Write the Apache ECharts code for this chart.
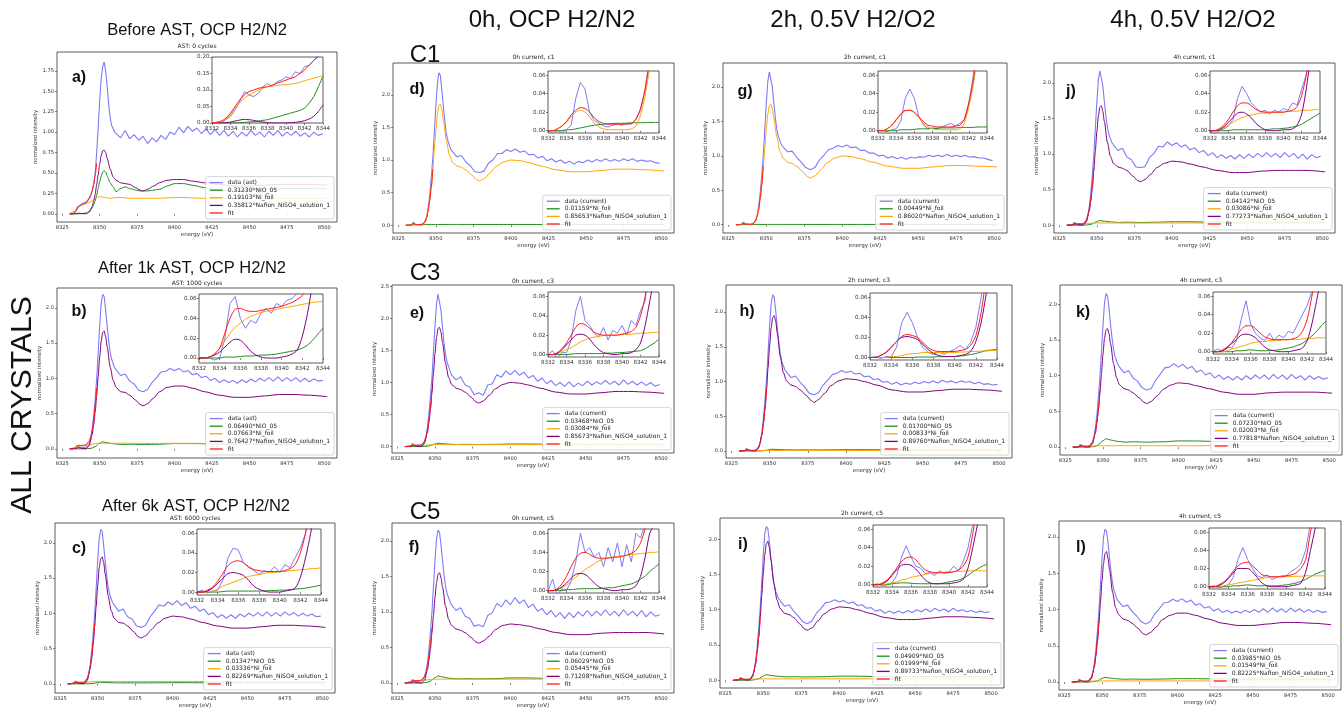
<!DOCTYPE html>
<html><head><meta charset="utf-8">
<script src="https://cdn.jsdelivr.net/npm/echarts@6/dist/echarts.min.js"></script>
<style>html,body{margin:0;padding:0;background:#fff}#c{width:1344px;height:709px}</style>
</head><body><div id="c"></div>
<script>
// ---------- shared x grids ----------
const XM = [8330,8334,8336,8338,8341,8343,8345,8346,8347,8348,8349,8350,8351,8352,8353,8354,8355,8357,8359,8361,8364,8367,8370,8374,8377,8379,8382,8386,8390,8395,8400,8406,8412,8420,8430,8440,8450,8460,8470,8480,8490,8502];
const XS = [8330,8340,8344,8347,8350,8352,8355,8360,8365,8370,8378,8390,8400,8410,8425,8440,8460,8480,8502];
const XF = [8330,8332,8334,8335.5,8337,8339,8341,8343,8344,8345,8346,8347,8348];
const XD = [8330,8332,8334,8335,8336,8338,8340,8342,8343,8344,8345,8346,8347,8348,8349,8350,8351,8352,8353,8354,8355,8356,8357,8358,8360,
 8361,8364,8367,8370,8373,8376,8379,8382,8385,8388,8391,8394,8397,8400,8403,8406,8409,8412,8415,8418,8421,8424,8427,8430,8433,8436,8439,8442,8445,8448,8451,8454,8457,8460,8463,8466,8469,8472,8475,8478,8481,8484,8487,8490,8493,8496,8499];
const XI = [8332,8332.5,8333,8333.5,8334,8334.5,8335,8335.5,8336,8336.5,8337,8337.5,8338,8338.5,8339,8339.5,8340,8340.5,8341,8341.5,8342,8342.5,8343,8343.5,8344];
const X_TICKS = [8325,8350,8375,8400,8425,8450,8475,8500];

// ---------- panel a ----------
const A_DATA = [0,0.0,0.03,0.08,0.10,0.12,0.14,0.16,0.18,0.22,0.28,0.36,0.50,0.75,1.05,1.38,1.65,1.80,1.86,1.75,1.55,1.35,1.18,1.08,1.0,
 0.98,0.93,1.02,0.92,0.97,0.90,0.95,0.86,0.93,0.88,0.96,0.91,1.00,0.97,1.06,0.99,1.07,1.01,1.05,0.98,1.04,0.97,1.03,0.96,1.02,0.95,1.01,0.94,1.00,0.95,1.02,0.96,1.00,0.94,1.01,0.96,1.02,0.95,1.00,0.96,1.01,0.95,0.99,0.94,1.00,0.96,0.98];
const A_NIO = [0,0,0,0.003,0.01,0.03,0.07,0.11,0.16,0.23,0.31,0.39,0.46,0.51,0.53,0.51,0.46,0.38,0.33,0.27,0.31,0.33,0.31,0.29,0.28,0.28,0.28,0.29,0.30,0.34,0.37,0.37,0.35,0.32,0.29,0.28,0.29,0.30,0.31,0.31,0.31,0.31];
const A_NI = [0,0.04,0.085,0.11,0.125,0.14,0.16,0.175,0.19,0.2,0.205,0.21,0.21,0.205,0.2,0.2,0.195,0.19,0.195,0.2,0.2,0.195,0.19,0.19,0.19,0.19,0.19,0.19,0.19,0.195,0.2,0.2,0.195,0.19,0.19,0.19,0.19,0.19,0.19,0.19,0.19,0.19];
const A_NAF = [0,0.002,0.008,0.002,0.001,0.02,0.09,0.16,0.24,0.36,0.48,0.61,0.71,0.77,0.78,0.75,0.68,0.55,0.45,0.41,0.38,0.37,0.36,0.32,0.29,0.28,0.30,0.34,0.38,0.41,0.42,0.42,0.40,0.38,0.36,0.34,0.34,0.35,0.36,0.36,0.36,0.35];
const A_FIT = [0,0,0.03,0.08,0.10,0.12,0.135,0.19,0.23,0.28,0.36,0.47,0.62];
const A_IN_DATA = [0.0,0.002,0.0,0.01,0.02,0.04,0.065,0.095,0.085,0.08,0.09,0.11,0.12,0.11,0.125,0.13,0.14,0.135,0.155,0.15,0.17,0.175,0.19,0.2,0.22];
const A_IN_FIT = [0,0.002,0.006,0.015,0.03,0.05,0.07,0.085,0.095,0.1,0.105,0.108,0.11,0.115,0.12,0.125,0.13,0.135,0.14,0.15,0.16,0.175,0.19,0.205,0.22];
const A_IN_NIO = [0,0,0,0,0,0,0.001,0.002,0.003,0.004,0.006,0.008,0.01,0.014,0.018,0.022,0.026,0.03,0.034,0.038,0.045,0.06,0.08,0.11,0.142];
const A_IN_NI = [0,0.001,0.004,0.012,0.025,0.045,0.062,0.075,0.085,0.092,0.1,0.105,0.11,0.112,0.114,0.115,0.116,0.118,0.12,0.123,0.128,0.132,0.136,0.14,0.143];
const A_IN_NAF = [0,0,0,0.001,0.003,0.006,0.009,0.011,0.01,0.008,0.005,0.003,0.001,0,0,0,0,0.001,0.002,0.004,0.007,0.012,0.02,0.035,0.055];

// ---------- panel b ----------
const B_DATA = [0,0.0,0.02,0.05,0.02,0.02,0.02,0.04,0.08,0.14,0.27,0.46,0.71,0.99,1.36,1.74,2.06,2.19,2.16,1.96,1.74,1.54,1.37,1.27,1.15,
 1.12,1.04,1.06,0.96,0.92,0.83,0.81,0.84,0.94,1.01,1.09,1.10,1.14,1.11,1.14,1.09,1.11,1.05,1.07,1.01,1.03,0.97,1.00,0.94,0.98,0.94,0.97,0.93,0.98,0.94,0.99,0.95,1.00,0.96,1.01,0.96,1.02,0.96,1.01,0.96,1.01,0.95,1.00,0.95,0.99,0.96,0.97];
const B_NIO = [0,0,0.005,0.03,0.08,0.10,0.085,0.07,0.06,0.065,0.06,0.065,0.075,0.075,0.07,0.065,0.065,0.065,0.065];
const B_NI = [0,0.05,0.06,0.075,0.08,0.08,0.078,0.078,0.08,0.078,0.077,0.077,0.078,0.078,0.077,0.077,0.077,0.077,0.077];
const B_NAF = [0,0.004,0.018,0.004,0.003,0.045,0.20,0.34,0.52,0.76,1.03,1.30,1.52,1.65,1.67,1.59,1.45,1.16,0.97,0.87,0.81,0.80,0.76,0.69,0.63,0.61,0.64,0.72,0.81,0.87,0.89,0.89,0.86,0.81,0.76,0.73,0.73,0.75,0.77,0.77,0.76,0.74];
const B_FIT = [0,0,0.01,0.05,0.048,0.05,0.058,0.11,0.17,0.27,0.42,0.61,0.86];
const B_IN_DATA = [0.0,0.0,0.0,-0.002,0.0,0.02,0.055,0.062,0.04,0.03,0.038,0.035,0.045,0.05,0.045,0.055,0.052,0.058,0.06,0.065,0.07,0.08,0.1,0.1,0.1];
const B_IN_FIT = [0,0,0.001,0.004,0.01,0.025,0.04,0.049,0.05,0.048,0.047,0.047,0.048,0.049,0.05,0.051,0.052,0.054,0.056,0.059,0.063,0.07,0.085,0.1,0.1];
const B_IN_NIO = [0,0,0,0,0,0.001,0.001,0.001,0.0015,0.002,0.002,0.0025,0.003,0.003,0.0035,0.004,0.005,0.006,0.007,0.008,0.01,0.013,0.018,0.024,0.03];
const B_IN_NI = [0,0,0.001,0.004,0.01,0.017,0.025,0.031,0.035,0.039,0.042,0.044,0.046,0.047,0.048,0.049,0.05,0.051,0.052,0.053,0.054,0.055,0.056,0.0565,0.057];
const B_IN_NAF = [0,0,0.001,0.003,0.006,0.011,0.016,0.019,0.018,0.013,0.007,0.003,0.001,0.0,0.0,0.0,0.001,0.002,0.004,0.008,0.022,0.045,0.075,0.1,0.1];

// ---------- panel c ----------
const C_DATA = [0,0.0,0.01,0.04,0.01,0.01,0.01,0.03,0.07,0.14,0.27,0.46,0.71,0.99,1.36,1.74,2.06,2.19,2.16,1.96,1.74,1.54,1.37,1.27,1.15,
 1.12,1.03,1.06,0.95,0.92,0.82,0.80,0.83,0.95,1.03,1.12,1.10,1.16,1.12,1.18,1.11,1.15,1.07,1.10,1.03,1.06,0.98,1.01,0.94,0.98,0.93,0.98,0.93,0.99,0.95,1.00,0.96,1.01,0.96,1.02,0.96,1.01,0.96,1.02,0.97,1.01,0.96,1.00,0.96,0.99,0.95,0.96];
const C_NIO = [0,0,0.001,0.006,0.016,0.022,0.018,0.015,0.013,0.014,0.013,0.014,0.016,0.016,0.015,0.014,0.014,0.014,0.014];
const C_NI = [0,0.023,0.026,0.03,0.034,0.034,0.033,0.033,0.034,0.033,0.033,0.033,0.034,0.034,0.033,0.033,0.033,0.033,0.033];
const C_NAF = [0,0.005,0.019,0.005,0.003,0.048,0.21,0.36,0.56,0.82,1.10,1.39,1.64,1.77,1.80,1.72,1.56,1.25,1.04,0.93,0.87,0.86,0.82,0.74,0.67,0.65,0.68,0.77,0.86,0.93,0.96,0.95,0.92,0.87,0.82,0.79,0.79,0.81,0.83,0.83,0.82,0.80];
const C_FIT = [0,0,0.01,0.032,0.022,0.021,0.024,0.075,0.14,0.25,0.40,0.60,0.86];
const C_IN_DATA = [0,0.002,-0.001,0.001,0.002,0.012,0.035,0.045,0.043,0.03,0.025,0.022,0.018,0.022,0.02,0.026,0.02,0.028,0.025,0.035,0.045,0.06,0.1,0.1,0.1];
const C_IN_FIT = [0,0,0.002,0.005,0.011,0.019,0.027,0.031,0.032,0.03,0.026,0.023,0.022,0.021,0.021,0.021,0.021,0.022,0.024,0.028,0.04,0.06,0.09,0.1,0.1];
const C_IN_NIO = [0,0,0,0,0,0.0005,0.001,0.001,0.001,0.001,0.001,0.001,0.001,0.0012,0.0015,0.0015,0.002,0.002,0.0025,0.003,0.0035,0.004,0.005,0.006,0.007];
const C_IN_NI = [0,0,0,0.001,0.003,0.006,0.008,0.01,0.012,0.014,0.016,0.017,0.018,0.019,0.02,0.02,0.021,0.021,0.022,0.022,0.023,0.023,0.024,0.024,0.025];
const C_IN_NAF = [0,0,0.001,0.004,0.009,0.014,0.019,0.02,0.019,0.017,0.012,0.006,0.003,0.001,0.0,0.0,0.0,0.001,0.002,0.004,0.015,0.035,0.06,0.09,0.1];

// ---------- panel d ----------
const D_DATA = [0,0.0,0.01,0.05,0.01,0.01,0.01,0.03,0.07,0.14,0.28,0.48,0.74,1.03,1.42,1.82,2.16,2.34,2.30,2.08,1.82,1.60,1.40,1.30,1.16,
 1.13,1.05,1.07,0.97,0.91,0.82,0.81,0.83,0.95,1.00,1.10,1.10,1.16,1.13,1.17,1.12,1.14,1.08,1.09,1.03,1.06,0.99,1.02,0.97,1.00,0.95,0.98,0.94,0.98,0.96,1.00,0.97,1.01,0.98,1.02,0.98,1.01,0.98,1.02,0.99,1.02,0.98,1.00,0.98,0.99,0.96,0.95];
const D_NI = [0,0.007,0.009,0.01,0.011,0.011,0.011,0.011,0.011,0.011,0.011,0.011,0.011,0.011,0.011,0.011,0.011,0.011,0.011];
const D_NAF = [0,0.005,0.02,0.005,0.003,0.05,0.22,0.38,0.58,0.85,1.15,1.45,1.70,1.84,1.86,1.78,1.62,1.30,1.08,0.97,0.91,0.89,0.85,0.77,0.70,0.68,0.71,0.80,0.90,0.97,1.00,0.99,0.96,0.91,0.85,0.82,0.82,0.84,0.86,0.86,0.85,0.83];
const D_FIT = [0,0,0.01,0.025,0.01,0.008,0.01,0.06,0.12,0.23,0.39,0.59,0.86];
const D_IN_DATA = [0.0,-0.002,0.0,-0.002,0.001,0.006,0.035,0.052,0.045,0.02,0.011,0.008,0.005,0.004,0.006,0.007,0.006,0.008,0.007,0.013,0.022,0.045,0.08,0.1,0.1];
const D_IN_FIT = [0,0,0.002,0.005,0.01,0.017,0.022,0.025,0.024,0.02,0.014,0.01,0.008,0.007,0.007,0.007,0.007,0.007,0.008,0.012,0.024,0.045,0.075,0.1,0.1];
const D_IN_NI = [0,0,0,0,0.001,0.001,0.002,0.003,0.004,0.005,0.006,0.0065,0.007,0.0075,0.0078,0.008,0.008,0.0082,0.0084,0.0085,0.0086,0.0087,0.0088,0.0089,0.009];
const D_IN_NAF = [0,0,0.002,0.005,0.009,0.015,0.02,0.022,0.02,0.015,0.008,0.004,0.002,0.001,0.001,0.001,0.001,0.001,0.002,0.005,0.017,0.038,0.068,0.1,0.1];

// ---------- panel e ----------
const E_DATA = [0,0.005,0.0,0.05,0.01,0.02,0.02,0.04,0.08,0.15,0.30,0.52,0.78,1.08,1.48,1.88,2.22,2.38,2.36,2.12,1.86,1.62,1.44,1.32,1.18,
 1.12,1.04,1.09,0.96,0.93,0.81,0.84,0.80,0.96,0.98,1.12,1.08,1.18,1.12,1.19,1.11,1.16,1.07,1.11,1.02,1.07,0.98,1.03,0.95,1.00,0.94,1.01,0.93,0.99,0.95,1.02,0.96,1.01,0.97,1.03,0.97,1.02,0.96,1.04,0.97,1.02,0.96,1.01,0.95,1.00,0.94,0.97];
const E_NIO = [0,0,0.003,0.015,0.04,0.053,0.045,0.037,0.032,0.035,0.032,0.035,0.04,0.04,0.037,0.035,0.035,0.035,0.035];
const E_NI = [0,0.021,0.024,0.028,0.031,0.031,0.03,0.03,0.031,0.03,0.03,0.03,0.031,0.031,0.03,0.03,0.03,0.03,0.03];
const E_NAF = [0,0.005,0.02,0.005,0.003,0.05,0.22,0.38,0.58,0.85,1.15,1.45,1.70,1.84,1.86,1.78,1.62,1.30,1.08,0.97,0.91,0.89,0.85,0.77,0.70,0.68,0.71,0.80,0.90,0.97,1.00,0.99,0.96,0.91,0.85,0.82,0.82,0.84,0.86,0.86,0.85,0.83];
const E_FIT = [0,0,0.01,0.03,0.022,0.02,0.024,0.08,0.15,0.26,0.42,0.62,0.89];
const E_IN_DATA = [0.0,0.004,-0.004,0.002,0.002,0.015,0.045,0.06,0.035,0.03,0.022,0.018,0.028,0.015,0.025,0.022,0.03,0.02,0.035,0.03,0.045,0.055,0.1,0.1,0.1];
const E_IN_FIT = [0,0,0.002,0.006,0.012,0.02,0.028,0.032,0.031,0.027,0.023,0.021,0.02,0.02,0.02,0.02,0.021,0.022,0.024,0.028,0.04,0.06,0.09,0.1,0.1];
const E_IN_NIO = [0,0,0,0,0,0.0005,0.001,0.001,0.001,0.001,0.001,0.001,0.001,0.0015,0.0015,0.002,0.002,0.0025,0.003,0.0035,0.004,0.006,0.009,0.012,0.016];
const E_IN_NI = [0,0,0.001,0.003,0.005,0.007,0.01,0.013,0.015,0.017,0.018,0.019,0.0195,0.02,0.02,0.02,0.021,0.021,0.021,0.0215,0.022,0.022,0.0225,0.023,0.023];
const E_IN_NAF = [0,0,0.001,0.005,0.01,0.015,0.02,0.021,0.02,0.016,0.01,0.005,0.002,0.001,0.0,0.0,0.001,0.001,0.002,0.005,0.012,0.03,0.055,0.08,0.1];

// ---------- panel f ----------
const F_DATA = [0,0.01,0.02,0.05,0.02,0.02,0.03,0.05,0.09,0.16,0.28,0.47,0.72,1.00,1.36,1.72,2.02,2.15,2.12,1.94,1.72,1.52,1.36,1.26,1.14,
 1.10,1.02,1.06,0.94,0.91,0.80,0.82,0.79,0.95,0.99,1.12,1.07,1.17,1.10,1.20,1.12,1.17,1.06,1.11,1.01,1.05,0.96,1.02,0.93,0.99,0.91,0.99,0.92,1.00,0.94,1.02,0.94,1.01,0.95,1.03,0.95,1.01,0.94,1.03,0.95,1.01,0.94,1.02,0.93,1.00,0.94,0.96];
const F_NIO = [0,0.001,0.006,0.027,0.075,0.1,0.085,0.067,0.058,0.062,0.058,0.062,0.072,0.072,0.066,0.062,0.062,0.062,0.06];
const F_NI = [0,0.038,0.043,0.05,0.055,0.055,0.054,0.054,0.055,0.054,0.054,0.054,0.055,0.055,0.054,0.054,0.054,0.054,0.054];
const F_NAF = [0,0.004,0.017,0.004,0.002,0.04,0.18,0.32,0.48,0.71,0.95,1.20,1.41,1.53,1.55,1.48,1.35,1.08,0.90,0.81,0.76,0.74,0.71,0.64,0.58,0.56,0.59,0.66,0.75,0.81,0.83,0.82,0.80,0.76,0.71,0.68,0.68,0.70,0.71,0.71,0.71,0.69];
const F_FIT = [0,0,0.012,0.04,0.035,0.035,0.04,0.09,0.15,0.24,0.38,0.55,0.78];
const F_IN_DATA = [0.0,0.012,-0.005,0.002,0.0,0.01,0.03,0.06,0.04,0.045,0.035,0.04,0.025,0.045,0.03,0.05,0.025,0.048,0.03,0.06,0.055,0.07,0.1,0.1,0.1];
const F_IN_FIT = [0,0,0.002,0.007,0.015,0.025,0.034,0.039,0.04,0.038,0.035,0.034,0.034,0.034,0.035,0.035,0.036,0.037,0.039,0.042,0.05,0.065,0.09,0.1,0.1];
const F_IN_NIO = [0,0,0,0,0.001,0.001,0.0015,0.002,0.002,0.002,0.002,0.0022,0.0025,0.003,0.003,0.004,0.005,0.006,0.007,0.009,0.012,0.015,0.02,0.024,0.028];
const F_IN_NI = [0,0,0.001,0.003,0.006,0.01,0.014,0.018,0.022,0.025,0.028,0.031,0.033,0.034,0.035,0.036,0.036,0.037,0.038,0.038,0.039,0.039,0.04,0.04,0.041];
const F_IN_NAF = [0,0,0.001,0.004,0.008,0.013,0.017,0.018,0.017,0.013,0.008,0.004,0.002,0.001,0.0,0.0,0.001,0.001,0.002,0.005,0.015,0.035,0.06,0.07,0.1];

// ---------- panel g ----------
const G_DATA = [0,0.0,0.01,0.04,0.01,0.01,0.01,0.03,0.07,0.14,0.27,0.46,0.72,1.00,1.38,1.76,2.08,2.22,2.20,2.00,1.76,1.55,1.38,1.28,1.16,
 1.13,1.06,1.07,0.98,0.91,0.83,0.80,0.83,0.94,1.01,1.09,1.11,1.15,1.13,1.16,1.12,1.13,1.08,1.08,1.04,1.04,1.00,1.01,0.97,0.99,0.96,0.98,0.95,0.98,0.97,0.99,0.98,1.01,0.99,1.01,0.99,1.02,0.99,1.01,0.99,1.01,0.98,0.99,0.97,0.97,0.95,0.93];
const G_NI = [0,0.003,0.004,0.004,0.0045,0.0045,0.0045,0.0045,0.0045,0.0045,0.0045,0.0045,0.0045,0.0045,0.0045,0.0045,0.0045,0.0045,0.0045];
const G_NAF = [0,0.005,0.02,0.005,0.003,0.05,0.22,0.38,0.57,0.83,1.11,1.39,1.61,1.73,1.75,1.68,1.55,1.27,1.07,0.97,0.91,0.89,0.85,0.77,0.70,0.68,0.71,0.80,0.90,0.97,1.00,0.99,0.96,0.91,0.85,0.82,0.82,0.84,0.86,0.86,0.85,0.84];
const G_FIT = [0,0,0.01,0.022,0.009,0.004,0.006,0.06,0.12,0.22,0.38,0.58,0.85];
const G_IN_DATA = [0.0,0.0,-0.001,0.001,0.002,0.01,0.035,0.045,0.035,0.015,0.006,0.002,0.003,0.002,0.004,0.006,0.008,0.005,0.008,0.012,0.03,0.06,0.1,0.1,0.1];
const G_IN_FIT = [0,0,0.002,0.006,0.012,0.018,0.022,0.022,0.02,0.015,0.01,0.006,0.005,0.004,0.004,0.004,0.004,0.005,0.006,0.012,0.03,0.055,0.09,0.1,0.1];
const G_IN_NI = [0,0,0,0,0,0.001,0.001,0.001,0.0015,0.002,0.002,0.002,0.0025,0.0025,0.003,0.003,0.003,0.003,0.0035,0.0035,0.0035,0.0035,0.004,0.004,0.004];
const G_IN_NAF = [0,0,0.002,0.005,0.011,0.017,0.021,0.022,0.019,0.014,0.008,0.004,0.002,0.001,0.001,0.001,0.001,0.001,0.002,0.008,0.026,0.05,0.085,0.1,0.1];

// ---------- panel h ----------
const H_DATA = [0,0.0,0.01,0.04,0.01,0.01,0.01,0.03,0.07,0.14,0.28,0.48,0.74,1.03,1.42,1.80,2.12,2.25,2.22,2.02,1.78,1.57,1.40,1.29,1.17,
 1.14,1.06,1.08,0.99,0.92,0.83,0.81,0.84,0.95,1.02,1.10,1.12,1.16,1.13,1.15,1.11,1.12,1.07,1.08,1.03,1.04,0.99,1.00,0.96,0.99,0.95,0.98,0.96,0.99,0.97,1.00,0.98,1.01,0.98,1.02,0.99,1.01,0.98,1.01,0.99,1.00,0.97,0.99,0.96,0.97,0.95,0.96];
const H_NIO = [0,0,0.002,0.008,0.02,0.026,0.022,0.018,0.016,0.017,0.016,0.017,0.02,0.02,0.018,0.017,0.017,0.017,0.017];
const H_NI = [0,0.005,0.006,0.007,0.008,0.008,0.008,0.008,0.008,0.008,0.008,0.008,0.008,0.008,0.008,0.008,0.008,0.008,0.008];
const H_NAF = [0,0.005,0.02,0.005,0.003,0.05,0.23,0.40,0.60,0.88,1.20,1.51,1.77,1.92,1.95,1.87,1.70,1.36,1.13,1.01,0.95,0.93,0.88,0.80,0.73,0.70,0.74,0.83,0.94,1.01,1.04,1.03,1.00,0.95,0.88,0.85,0.85,0.87,0.89,0.89,0.88,0.86];
const H_FIT = [0,0,0.01,0.023,0.01,0.006,0.008,0.065,0.13,0.24,0.41,0.62,0.90];
const H_IN_DATA = [0,0.001,-0.001,0.001,0.001,0.01,0.035,0.045,0.035,0.02,0.01,0.005,0.003,0.006,0.003,0.006,0.008,0.012,0.008,0.015,0.03,0.06,0.1,0.1,0.1];
const H_IN_FIT = [0,0,0.002,0.005,0.01,0.016,0.021,0.023,0.022,0.02,0.015,0.01,0.007,0.006,0.006,0.006,0.006,0.007,0.008,0.012,0.022,0.045,0.08,0.1,0.1];
const H_IN_NIO = [0,0,0,0,0,0,0,0,0,0.0005,0.0005,0.0005,0.0005,0.0008,0.0008,0.001,0.001,0.0015,0.002,0.003,0.004,0.0055,0.007,0.0075,0.008];
const H_IN_NI = [0,0,0,0,0.001,0.001,0.002,0.003,0.004,0.004,0.005,0.005,0.005,0.005,0.005,0.005,0.005,0.0055,0.0055,0.006,0.006,0.0065,0.0065,0.007,0.007];
const H_IN_NAF = [0,0,0.002,0.005,0.01,0.016,0.02,0.021,0.02,0.018,0.013,0.008,0.004,0.002,0.001,0.001,0.001,0.002,0.003,0.006,0.016,0.035,0.065,0.1,0.1];

// ---------- panel i ----------
const I_DATA = [0,0.0,0.01,0.04,0.01,0.01,0.01,0.03,0.07,0.14,0.28,0.48,0.74,1.03,1.40,1.77,2.08,2.18,2.15,1.96,1.74,1.54,1.37,1.27,1.16,
 1.13,1.05,1.07,0.98,0.91,0.83,0.80,0.84,0.95,1.02,1.10,1.11,1.14,1.11,1.13,1.09,1.11,1.06,1.07,1.02,1.03,0.98,1.00,0.95,0.98,0.95,0.98,0.95,0.99,0.96,1.00,0.97,1.01,0.97,1.02,0.98,1.01,0.97,1.02,0.98,1.00,0.97,0.99,0.96,0.98,0.96,0.97];
const I_NIO = [0,0,0.005,0.022,0.06,0.08,0.068,0.055,0.048,0.05,0.047,0.05,0.058,0.058,0.053,0.05,0.05,0.05,0.049];
const I_NI = [0,0.014,0.016,0.018,0.02,0.02,0.02,0.02,0.02,0.02,0.02,0.02,0.02,0.02,0.02,0.02,0.02,0.02,0.02];
const I_NAF = [0,0.005,0.02,0.005,0.003,0.05,0.23,0.40,0.61,0.89,1.20,1.52,1.78,1.93,1.97,1.88,1.71,1.37,1.14,1.02,0.95,0.93,0.89,0.80,0.73,0.71,0.74,0.84,0.94,1.01,1.04,1.03,1.00,0.95,0.89,0.86,0.86,0.88,0.90,0.90,0.89,0.87];
const I_FIT = [0,0,0.01,0.03,0.016,0.013,0.015,0.07,0.14,0.25,0.41,0.62,0.9];
const I_IN_DATA = [0,0.001,-0.001,0.0,0.002,0.01,0.03,0.042,0.03,0.02,0.018,0.012,0.013,0.01,0.015,0.012,0.014,0.02,0.015,0.025,0.04,0.065,0.1,0.1,0.1];
const I_IN_FIT = [0,0,0.002,0.005,0.011,0.018,0.025,0.029,0.03,0.027,0.021,0.016,0.014,0.013,0.013,0.013,0.013,0.014,0.016,0.02,0.03,0.055,0.085,0.1,0.1];
const I_IN_NIO = [0,0,0,0,0.001,0.0015,0.002,0.002,0.0015,0.0012,0.001,0.001,0.001,0.001,0.001,0.002,0.003,0.004,0.005,0.007,0.01,0.014,0.017,0.02,0.022];
const I_IN_NI = [0,0,0,0.001,0.002,0.003,0.005,0.006,0.008,0.009,0.01,0.011,0.012,0.0125,0.013,0.0135,0.014,0.014,0.0145,0.0145,0.015,0.015,0.015,0.015,0.015];
const I_IN_NAF = [0,0,0.001,0.004,0.01,0.016,0.021,0.022,0.021,0.017,0.011,0.005,0.002,0.001,0.001,0.001,0.001,0.002,0.003,0.006,0.018,0.04,0.065,0.09,0.1];

// ---------- panel j ----------
const J_DATA = [0,0.0,0.01,0.04,0.01,0.01,0.01,0.03,0.07,0.14,0.27,0.46,0.71,0.99,1.36,1.72,2.04,2.17,2.15,1.96,1.74,1.54,1.38,1.28,1.16,
 1.13,1.05,1.08,0.96,0.92,0.82,0.81,0.82,0.95,1.01,1.11,1.10,1.17,1.12,1.16,1.10,1.13,1.06,1.09,1.02,1.05,0.98,1.02,0.95,0.99,0.94,0.98,0.93,0.99,0.94,1.00,0.95,1.01,0.96,1.02,0.96,1.01,0.95,1.02,0.96,1.01,0.94,1.00,0.93,0.99,0.95,0.97];
const J_NIO = [0,0,0.004,0.018,0.05,0.065,0.055,0.045,0.038,0.042,0.038,0.042,0.048,0.048,0.044,0.041,0.041,0.041,0.041];
const J_NI = [0,0.021,0.024,0.028,0.031,0.031,0.03,0.03,0.031,0.03,0.03,0.03,0.031,0.031,0.03,0.03,0.03,0.03,0.03];
const J_NAF = [0,0.004,0.018,0.004,0.003,0.045,0.20,0.34,0.52,0.77,1.04,1.31,1.53,1.66,1.68,1.60,1.46,1.17,0.97,0.87,0.82,0.80,0.77,0.69,0.63,0.61,0.64,0.72,0.81,0.87,0.90,0.89,0.86,0.82,0.77,0.74,0.74,0.76,0.77,0.77,0.77,0.75];
const J_FIT = [0,0,0.012,0.03,0.022,0.02,0.022,0.07,0.13,0.23,0.38,0.56,0.81];
const J_IN_DATA = [0,-0.003,0.0,0.002,0.005,0.012,0.035,0.048,0.04,0.03,0.025,0.02,0.022,0.018,0.022,0.02,0.024,0.022,0.03,0.028,0.045,0.06,0.1,0.1,0.1];
const J_IN_FIT = [0,0,0.002,0.006,0.012,0.02,0.027,0.03,0.03,0.027,0.023,0.021,0.02,0.02,0.02,0.02,0.02,0.021,0.022,0.026,0.038,0.06,0.09,0.1,0.1];
const J_IN_NIO = [0,0,0,0,0,0.001,0.001,0.001,0.001,0.001,0.001,0.001,0.001,0.0015,0.002,0.002,0.0025,0.003,0.004,0.005,0.007,0.01,0.013,0.016,0.019];
const J_IN_NI = [0,0,0.001,0.003,0.006,0.009,0.012,0.014,0.016,0.017,0.018,0.019,0.019,0.0195,0.02,0.02,0.02,0.021,0.021,0.021,0.022,0.022,0.022,0.023,0.023];
const J_IN_NAF = [0,0,0.001,0.004,0.009,0.014,0.019,0.02,0.018,0.014,0.008,0.004,0.001,0.0,0.0,0.0,0.001,0.001,0.002,0.006,0.018,0.045,0.08,0.1,0.1];

// ---------- panel k ----------
const K_DATA = [0,0.0,0.01,0.04,0.01,0.01,0.01,0.03,0.07,0.14,0.27,0.46,0.71,0.99,1.35,1.70,2.02,2.15,2.12,1.95,1.72,1.53,1.37,1.27,1.15,
 1.12,1.04,1.07,0.97,0.92,0.83,0.80,0.82,0.94,1.02,1.11,1.12,1.17,1.12,1.16,1.10,1.13,1.05,1.08,1.01,1.04,0.97,1.01,0.95,0.99,0.94,0.99,0.94,1.00,0.95,1.01,0.96,1.01,0.95,1.02,0.96,1.01,0.95,1.02,0.96,1.00,0.94,1.00,0.95,0.99,0.95,0.97];
const K_NIO = [0,0.001,0.007,0.032,0.09,0.118,0.1,0.08,0.07,0.075,0.07,0.075,0.087,0.087,0.08,0.075,0.075,0.075,0.072];
const K_NI = [0,0.014,0.016,0.018,0.02,0.02,0.02,0.02,0.02,0.02,0.02,0.02,0.02,0.02,0.02,0.02,0.02,0.02,0.02];
const K_NAF = [0,0.004,0.018,0.004,0.003,0.045,0.20,0.34,0.52,0.77,1.03,1.30,1.52,1.64,1.66,1.59,1.45,1.17,0.97,0.87,0.82,0.80,0.76,0.69,0.63,0.61,0.64,0.72,0.81,0.87,0.90,0.89,0.86,0.82,0.77,0.74,0.74,0.76,0.77,0.77,0.77,0.755];
const K_FIT = [0,0,0.01,0.028,0.016,0.013,0.016,0.07,0.13,0.23,0.37,0.55,0.80];
const K_IN_DATA = [0,0.003,0.0,0.005,0.004,0.012,0.035,0.055,0.03,0.02,0.015,0.012,0.02,0.012,0.018,0.015,0.022,0.02,0.03,0.04,0.05,0.065,0.1,0.1,0.1];
const K_IN_FIT = [0,0,0.002,0.005,0.01,0.017,0.024,0.028,0.028,0.025,0.02,0.016,0.014,0.013,0.013,0.013,0.013,0.014,0.016,0.022,0.035,0.06,0.09,0.1,0.1];
const K_IN_NIO = [0,0,0,0,0,0.001,0.001,0.0015,0.002,0.0015,0.001,0.001,0.0012,0.0015,0.002,0.003,0.004,0.005,0.007,0.009,0.013,0.017,0.022,0.028,0.033];
const K_IN_NI = [0,0,0,0.001,0.003,0.004,0.006,0.007,0.009,0.01,0.011,0.011,0.012,0.012,0.012,0.013,0.013,0.013,0.013,0.014,0.014,0.014,0.015,0.015,0.015];
const K_IN_NAF = [0,0,0.001,0.004,0.009,0.013,0.018,0.019,0.018,0.015,0.01,0.005,0.002,0.001,0.0,0.0,0.0,0.001,0.002,0.004,0.012,0.03,0.055,0.08,0.1];

// ---------- panel l ----------
const L_DATA = [0,0.0,0.01,0.04,0.01,0.01,0.01,0.03,0.07,0.14,0.27,0.46,0.71,0.99,1.35,1.69,1.99,2.11,2.08,1.92,1.71,1.52,1.36,1.26,1.14,
 1.11,1.04,1.06,0.97,0.91,0.83,0.80,0.83,0.94,1.01,1.09,1.10,1.14,1.11,1.15,1.10,1.13,1.06,1.08,1.02,1.04,0.98,1.01,0.96,0.99,0.95,0.98,0.95,0.99,0.96,1.00,0.96,1.01,0.96,1.02,0.97,1.01,0.96,1.02,0.97,1.01,0.96,1.00,0.96,0.99,0.96,0.97];
const L_NIO = [0,0,0.004,0.017,0.048,0.065,0.055,0.044,0.038,0.041,0.038,0.041,0.046,0.046,0.043,0.04,0.04,0.04,0.04];
const L_NI = [0,0.011,0.012,0.014,0.015,0.016,0.015,0.015,0.015,0.015,0.015,0.015,0.015,0.015,0.015,0.015,0.015,0.015,0.015];
const L_NAF = [0,0.005,0.019,0.005,0.003,0.048,0.21,0.36,0.55,0.81,1.10,1.39,1.63,1.77,1.80,1.71,1.55,1.24,1.03,0.93,0.87,0.85,0.81,0.74,0.67,0.65,0.68,0.76,0.86,0.92,0.95,0.95,0.92,0.87,0.81,0.78,0.78,0.80,0.82,0.82,0.81,0.79];
const L_FIT = [0,0,0.01,0.027,0.013,0.011,0.014,0.07,0.13,0.24,0.39,0.59,0.85];
const L_IN_DATA = [0,0.001,-0.001,0.0,0.002,0.01,0.03,0.043,0.03,0.02,0.012,0.01,0.013,0.008,0.01,0.012,0.012,0.017,0.02,0.025,0.04,0.07,0.1,0.1,0.1];
const L_IN_FIT = [0,0,0.002,0.005,0.01,0.017,0.023,0.026,0.027,0.023,0.018,0.013,0.012,0.011,0.011,0.011,0.012,0.013,0.015,0.02,0.03,0.06,0.09,0.1,0.1];
const L_IN_NIO = [0,0,0,0,0,0.001,0.001,0.0015,0.002,0.0015,0.001,0.001,0.001,0.001,0.001,0.0015,0.002,0.003,0.004,0.006,0.008,0.011,0.014,0.016,0.018];
const L_IN_NI = [0,0,0,0.001,0.002,0.003,0.004,0.005,0.006,0.007,0.008,0.009,0.01,0.0105,0.011,0.011,0.011,0.0112,0.0115,0.0115,0.012,0.012,0.012,0.012,0.012];
const L_IN_NAF = [0,0,0.001,0.004,0.009,0.015,0.02,0.02,0.02,0.016,0.01,0.004,0.001,0.0,0.0,0.0,0.0,0.001,0.002,0.004,0.016,0.04,0.065,0.09,0.1];

// ---------- panel descriptions ----------
const NAF = 'Nafion_NiSO4_solution_1';
const PANELS = [
 {k:'a', sub:'AST: 0 cycles', dn:'data (ast)', data:A_DATA, fit:A_FIT,
  comps:[['0.31230*NiO_05',A_NIO,XM],['0.19103*Ni_foil',A_NI,XM],['0.35812*'+NAF,A_NAF,XM]],
  ins:[A_IN_DATA,A_IN_FIT,[A_IN_NIO,A_IN_NI,A_IN_NAF]]},
 {k:'b', sub:'AST: 1000 cycles', dn:'data (ast)', data:B_DATA, fit:B_FIT,
  comps:[['0.06490*NiO_05',B_NIO,XS],['0.07663*Ni_foil',B_NI,XS],['0.76427*'+NAF,B_NAF,XM]],
  ins:[B_IN_DATA,B_IN_FIT,[B_IN_NIO,B_IN_NI,B_IN_NAF]]},
 {k:'c', sub:'AST: 6000 cycles', dn:'data (ast)', data:C_DATA, fit:C_FIT,
  comps:[['0.01347*NiO_05',C_NIO,XS],['0.03336*Ni_foil',C_NI,XS],['0.82269*'+NAF,C_NAF,XM]],
  ins:[C_IN_DATA,C_IN_FIT,[C_IN_NIO,C_IN_NI,C_IN_NAF]]},
 {k:'d', sub:'0h current, c1', dn:'data (current)', data:D_DATA, fit:D_FIT,
  comps:[['0.01159*Ni_foil',D_NI,XS],['0.85653*'+NAF,D_NAF,XM]],
  ins:[D_IN_DATA,D_IN_FIT,[D_IN_NI,D_IN_NAF]]},
 {k:'e', sub:'0h current, c3', dn:'data (current)', data:E_DATA, fit:E_FIT,
  comps:[['0.03468*NiO_05',E_NIO,XS],['0.03084*Ni_foil',E_NI,XS],['0.85673*'+NAF,E_NAF,XM]],
  ins:[E_IN_DATA,E_IN_FIT,[E_IN_NIO,E_IN_NI,E_IN_NAF]]},
 {k:'f', sub:'0h current, c5', dn:'data (current)', data:F_DATA, fit:F_FIT,
  comps:[['0.06029*NiO_05',F_NIO,XS],['0.05445*Ni_foil',F_NI,XS],['0.71208*'+NAF,F_NAF,XM]],
  ins:[F_IN_DATA,F_IN_FIT,[F_IN_NIO,F_IN_NI,F_IN_NAF]]},
 {k:'g', sub:'2h current, c1', dn:'data (current)', data:G_DATA, fit:G_FIT,
  comps:[['0.00449*Ni_foil',G_NI,XS],['0.86020*'+NAF,G_NAF,XM]],
  ins:[G_IN_DATA,G_IN_FIT,[G_IN_NI,G_IN_NAF]]},
 {k:'h', sub:'2h current, c3', dn:'data (current)', data:H_DATA, fit:H_FIT,
  comps:[['0.01700*NiO_05',H_NIO,XS],['0.00833*Ni_foil',H_NI,XS],['0.89760*'+NAF,H_NAF,XM]],
  ins:[H_IN_DATA,H_IN_FIT,[H_IN_NIO,H_IN_NI,H_IN_NAF]]},
 {k:'i', sub:'2h current, c5', dn:'data (current)', data:I_DATA, fit:I_FIT,
  comps:[['0.04909*NiO_05',I_NIO,XS],['0.01999*Ni_foil',I_NI,XS],['0.89733*'+NAF,I_NAF,XM]],
  ins:[I_IN_DATA,I_IN_FIT,[I_IN_NIO,I_IN_NI,I_IN_NAF]]},
 {k:'j', sub:'4h current, c1', dn:'data (current)', data:J_DATA, fit:J_FIT,
  comps:[['0.04142*NiO_05',J_NIO,XS],['0.03086*Ni_foil',J_NI,XS],['0.77273*'+NAF,J_NAF,XM]],
  ins:[J_IN_DATA,J_IN_FIT,[J_IN_NIO,J_IN_NI,J_IN_NAF]]},
 {k:'k', sub:'4h current, c3', dn:'data (current)', data:K_DATA, fit:K_FIT,
  comps:[['0.07230*NiO_05',K_NIO,XS],['0.02003*Ni_foil',K_NI,XS],['0.77818*'+NAF,K_NAF,XM]],
  ins:[K_IN_DATA,K_IN_FIT,[K_IN_NIO,K_IN_NI,K_IN_NAF]]},
 {k:'l', sub:'4h current, c5', dn:'data (current)', data:L_DATA, fit:L_FIT,
  comps:[['0.03985*NiO_05',L_NIO,XS],['0.01549*Ni_foil',L_NI,XS],['0.82225*'+NAF,L_NAF,XM]],
  ins:[L_IN_DATA,L_IN_FIT,[L_IN_NIO,L_IN_NI,L_IN_NAF]]}
];

// ---------- layout (positions only) ----------
const LAYOUT = {
 a:{g:[57,52,280,170], y:[-0.1,1.98], i:[212,57,111,66], iy:[0,0.2], t:46, lab:[79,78]},
 b:{g:[57,288,280,170], y:[-0.13,2.28], i:[199,294,124,69], iy:[-0.005,0.0645], t:283, lab:[79,312]},
 c:{g:[55,523,280,170], y:[-0.13,2.28], i:[197,529,124,66], iy:[-0.003,0.0645], t:518, lab:[79,549]},
 d:{g:[393,63,281,170], y:[-0.12,2.49], i:[548,71,111,62], iy:[-0.0025,0.0645], t:57, lab:[417,90]},
 e:{g:[392,285,282,168], y:[-0.1,2.52], i:[548,292,111,65], iy:[-0.0025,0.0645], t:281, lab:[417,314]},
 f:{g:[392,523,282,170], y:[-0.14,2.25], i:[548,529,111,64], iy:[-0.0025,0.0645], t:518, lab:[414,548]},
 g:{g:[723,63,284,170], y:[-0.12,2.35], i:[878,71,109,62], iy:[-0.0025,0.0645], t:57, lab:[745,92]},
 h:{g:[726,285,286,173], y:[-0.1,2.39], i:[870,293,127,67], iy:[-0.0025,0.0645], t:280, lab:[747,312]},
 i:{g:[720,518,284,170], y:[-0.11,2.30], i:[873,525,114,62], iy:[-0.0025,0.0645], t:513, lab:[743,545]},
 j:{g:[1054,63,281,170], y:[-0.11,2.28], i:[1210,71,110,62], iy:[-0.0025,0.0645], t:57, lab:[1071,92]},
 k:{g:[1060,285,282,170], y:[-0.11,2.27], i:[1213,292,113,62], iy:[-0.0025,0.0645], t:280, lab:[1083,313]},
 l:{g:[1059,521,282,169], y:[-0.11,2.22], i:[1209,528,116,61], iy:[-0.0025,0.0645], t:516, lab:[1081,548]}
};

const BLUE = '#7c7cf6', RED = '#ff1a1a';
const CCOL = ['#1f8c1f', '#ffa500', '#800080'];
const AX = '#333';
const FF = '"DejaVu Sans", sans-serif';
const zip = (xs, ys) => xs.map((x, i) => [x, ys[i]]);
const plain = v => String(v);

const grid = [], xAxis = [], yAxis = [], series = [], legend = [], graphic = [];
const lineBase = {type:'line', showSymbol:false, symbol:'none', animation:false, silent:true, emphasis:{disabled:true}};

PANELS.forEach((p, n) => {
  const L = LAYOUT[p.k];
  const gi = n * 2, ii = n * 2 + 1;
  const dec = p.k === 'a' ? 2 : 1;
  const ytk = p.k === 'a' ? [0,0.25,0.5,0.75,1,1.25,1.5,1.75] : (p.k === 'e' ? [0,0.5,1,1.5,2,2.5] : [0,0.5,1,1.5,2]);
  grid.push({left:L.g[0], top:L.g[1], width:L.g[2], height:L.g[3], show:true, borderColor:AX, borderWidth:0.8, backgroundColor:'rgba(0,0,0,0)', outerBoundsMode:'none', containLabel:false, z:2});
  grid.push({left:L.i[0], top:L.i[1], width:L.i[2], height:L.i[3], show:true, borderColor:AX, borderWidth:0.8, backgroundColor:'#ffffff', outerBoundsMode:'none', containLabel:false, z:10});
  xAxis.push({gridIndex:gi, type:'value', min:8321.5, max:8508.5, splitLine:{show:false}, axisLine:{show:false},
    axisTick:{customValues:X_TICKS, length:2, lineStyle:{color:AX, width:0.6}},
    axisLabel:{customValues:X_TICKS, formatter:plain, fontSize:5.2, margin:3, color:AX, fontFamily:FF},
    name:'energy (eV)', nameLocation:'middle', nameGap:10, nameTextStyle:{fontSize:5.5, color:AX, fontFamily:FF}});
  yAxis.push({gridIndex:gi, type:'value', min:L.y[0], max:L.y[1], splitLine:{show:false}, axisLine:{show:false},
    axisTick:{customValues:ytk, length:2, lineStyle:{color:AX, width:0.6}},
    axisLabel:{customValues:ytk, formatter:v => v.toFixed(dec), fontSize:5.2, margin:3, color:AX, fontFamily:FF},
    name:'normalized intensity', nameLocation:'middle', nameGap: dec === 2 ? 19 : 15, nameTextStyle:{fontSize:5.3, color:AX, fontFamily:FF}});
  const iyt = p.k === 'a' ? [0,0.05,0.1,0.15,0.2] : [0,0.02,0.04,0.06];
  xAxis.push({gridIndex:ii, type:'value', min:8332, max:8344, interval:2, z:13, splitLine:{show:false}, axisLine:{show:false},
    axisTick:{length:2, lineStyle:{color:AX, width:0.6}},
    axisLabel:{formatter:plain, fontSize:5.6, margin:2.5, color:AX, fontFamily:FF, showMinLabel:true, showMaxLabel:true}});
  yAxis.push({gridIndex:ii, type:'value', min:L.iy[0], max:L.iy[1], z:13, splitLine:{show:false}, axisLine:{show:false},
    axisTick:{customValues:iyt, length:2, lineStyle:{color:AX, width:0.6}},
    axisLabel:{customValues:iyt, formatter:v => v.toFixed(2), fontSize:5.6, margin:2.5, color:AX, fontFamily:FF}});

  // main plot series
  series.push(Object.assign({}, lineBase, {name:p.dn, xAxisIndex:gi, yAxisIndex:gi, z:3, color:BLUE, lineStyle:{color:BLUE, width:1.1}, data:zip(XD, p.data)}));
  p.comps.forEach((c, j) => {
    series.push(Object.assign({}, lineBase, {name:c[0], xAxisIndex:gi, yAxisIndex:gi, z:3, smooth:0.25, smoothMonotone:'x', color:CCOL[j], lineStyle:{color:CCOL[j], width:1}, data:zip(c[2], c[1])}));
  });
  series.push(Object.assign({}, lineBase, {name:'fit', xAxisIndex:gi, yAxisIndex:gi, z:3, smooth:0.25, smoothMonotone:'x', color:RED, lineStyle:{color:RED, width:1}, data:zip(XF, p.fit)}));

  // inset series
  series.push(Object.assign({}, lineBase, {name:p.dn, xAxisIndex:ii, yAxisIndex:ii, z:12, color:BLUE, lineStyle:{color:BLUE, width:1}, data:zip(XI, p.ins[0])}));
  p.ins[2].forEach((arr, j) => {
    series.push(Object.assign({}, lineBase, {name:p.comps[j][0], xAxisIndex:ii, yAxisIndex:ii, z:12, smooth:0.3, color:CCOL[j], lineStyle:{color:CCOL[j], width:1}, data:zip(XI, arr)}));
  });
  series.push(Object.assign({}, lineBase, {name:'fit', xAxisIndex:ii, yAxisIndex:ii, z:12, smooth:0.3, color:RED, lineStyle:{color:RED, width:1}, data:zip(XI, p.ins[1])}));

  // legend (lower right of main plot)
  legend.push({right:1344 - (L.g[0] + L.g[2] - 3), bottom:709 - (L.g[1] + L.g[3] - 3), orient:'vertical', selectedMode:false,
    data:[p.dn].concat(p.comps.map(c => c[0])).concat(['fit']),
    icon:'rect', itemWidth:13, itemHeight:1.3, itemGap:1.6,
    textStyle:{fontSize:6, fontFamily:FF, color:'#222'},
    backgroundColor:'rgba(255,255,255,0.85)', borderColor:'#cccccc', borderWidth:0.8, borderRadius:2, padding:[3,4,3,4], z:20});

  // axes title + panel letter
  graphic.push({type:'text', x:L.g[0] + L.g[2] / 2, y:L.t, z:100, style:{text:p.sub, font:'6px ' + FF, fill:'#222', align:'center', verticalAlign:'middle'}});
  graphic.push({type:'text', x:L.lab[0], y:L.lab[1], z:100, style:{text:p.k + ')', font:'bold 16px "Liberation Sans", Arial, sans-serif', fill:'#111', align:'center', verticalAlign:'middle'}});
});

const HEADS = [
 ['Before AST, OCP H2/N2', 197, 30, 16.5],
 ['After 1k AST, OCP H2/N2', 192, 268, 16.5],
 ['After 6k AST, OCP H2/N2', 196, 506, 16.5],
 ['0h, OCP H2/N2', 552, 20, 24],
 ['2h, 0.5V H2/O2', 853, 20, 24],
 ['4h, 0.5V H2/O2', 1193, 20, 24],
 ['C1', 425, 55, 24],
 ['C3', 425, 273, 24],
 ['C5', 425, 512, 24]
];
HEADS.forEach(h => graphic.push({type:'text', x:h[1], y:h[2], z:100,
  style:{text:h[0], font:h[3] + 'px "Liberation Sans", Arial, sans-serif', fill:'#111', align:'center', verticalAlign:'middle'}}));
graphic.push({type:'text', x:23, y:405, rotation:Math.PI / 2, z:100,
  style:{text:'ALL CRYSTALS', font:'30px "Liberation Sans", Arial, sans-serif', fill:'#111', align:'center', verticalAlign:'middle'}});

const chart = echarts.init(document.getElementById('c'), null, {renderer:'canvas', width:1344, height:709});
chart.setOption({animation:false, backgroundColor:'#ffffff', grid, xAxis, yAxis, series, legend, graphic, tooltip:{show:false}});
</script></body></html>
